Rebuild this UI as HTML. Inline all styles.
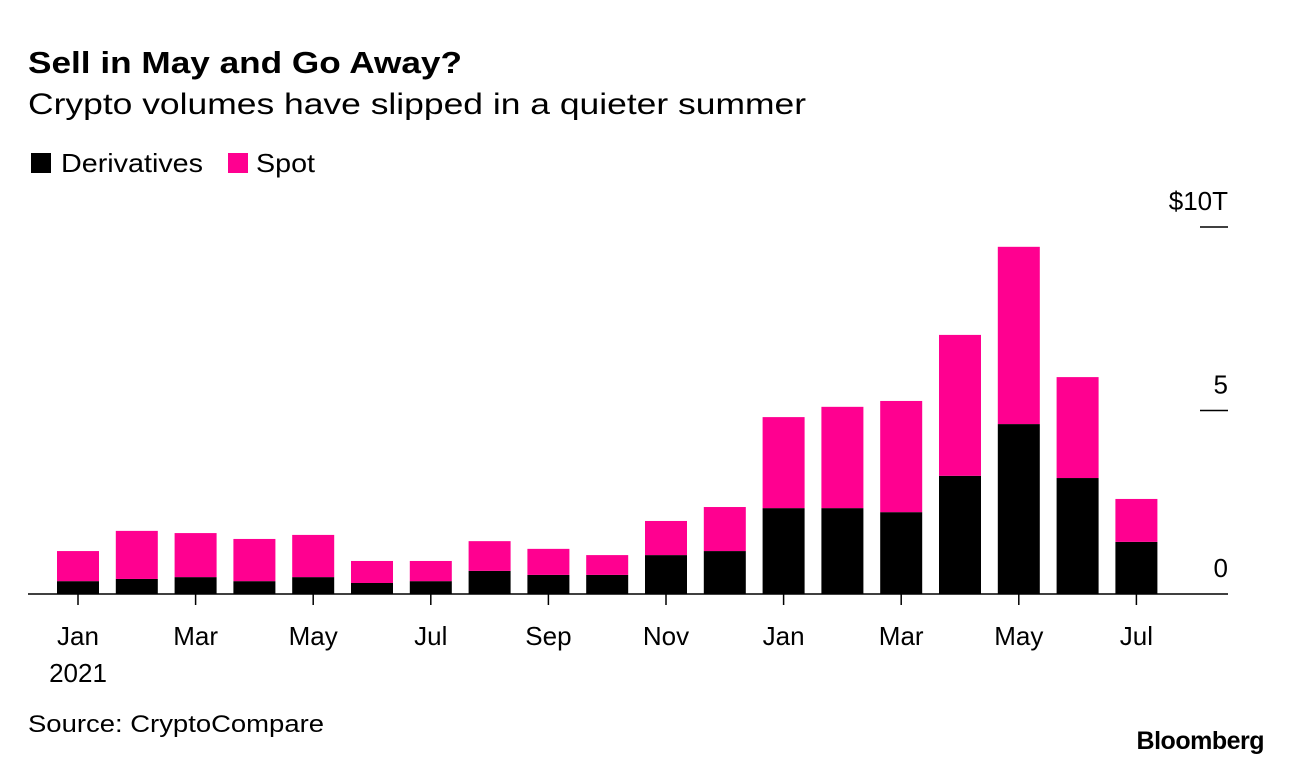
<!DOCTYPE html>
<html><head><meta charset="utf-8"><style>
body{margin:0;background:#fff;width:1292px;height:764px;overflow:hidden;font-family:"Liberation Sans",Arial,sans-serif}
</style></head><body>
<svg id="chart" width="1292" height="764" xmlns="http://www.w3.org/2000/svg" font-family="Liberation Sans, Arial, sans-serif">
<text x="28" y="73" font-size="31" font-weight="bold" fill="#000" textLength="434" lengthAdjust="spacingAndGlyphs">Sell in May and Go Away?</text>
<text x="28" y="114" font-size="30" fill="#000" textLength="778" lengthAdjust="spacingAndGlyphs">Crypto volumes have slipped in a quieter summer</text>
<g>
<rect x="31" y="153" width="20" height="20" fill="#000"/>
<text x="61" y="172" font-size="26" textLength="142" lengthAdjust="spacingAndGlyphs">Derivatives</text>
<rect x="228" y="153" width="20" height="20" fill="#ff0090"/>
<text x="256" y="172" font-size="26" textLength="59" lengthAdjust="spacingAndGlyphs">Spot</text>
</g>
<g id="bars"></g>
<g id="axes"></g>
<text x="28" y="732" font-size="24" textLength="296" lengthAdjust="spacingAndGlyphs">Source: CryptoCompare</text>
<text x="1264" y="749" font-size="25" font-weight="bold" text-anchor="end" letter-spacing="-0.5">Bloomberg</text>
</svg>
<script>
const months = ["Jan","Feb","Mar","Apr","May","Jun","Jul","Aug","Sep","Oct","Nov","Dec","Jan","Feb","Mar","Apr","May","Jun","Jul"];
const derivatives = [0.35,0.41,0.46,0.35,0.46,0.3,0.35,0.63,0.52,0.52,1.06,1.17,2.34,2.34,2.23,3.22,4.63,3.16,1.42];
const spot = [0.82,1.31,1.2,1.15,1.15,0.6,0.55,0.81,0.71,0.54,0.93,1.2,2.48,2.76,3.03,3.84,4.83,2.75,1.17];
const yTicks = [0,5,10];
const yTickLabels = ["0","5","$10T"];
const xLabelIdx = [0,2,4,6,8,10,12,14,16,18];

const NS="http://www.w3.org/2000/svg";
const y0=594, pxPerT=36.7;
function yScale(v){return y0-v*pxPerT;}
function xScale(i){return 78+i*58.8;}
const bw=42;
const bars=document.getElementById('bars');
const axes=document.getElementById('axes');
function mk(tag,attrs,parent){const e=document.createElementNS(NS,tag);for(const k in attrs)e.setAttribute(k,attrs[k]);parent.appendChild(e);return e;}
months.forEach((m,i)=>{
  const d=derivatives[i], s=spot[i];
  const r1=mk('rect',{x:xScale(i)-bw/2,y:yScale(d),width:bw,height:y0-yScale(d),fill:'#000'},bars);
  
  
  const r2=mk('rect',{x:xScale(i)-bw/2,y:yScale(d+s),width:bw,height:yScale(d)-yScale(d+s),fill:'#ff0090'},bars);
  
  
});
const base=mk('line',{x1:28,x2:1228,y1:y0,y2:y0,stroke:'#000','stroke-width':1.5},axes);


xLabelIdx.forEach(i=>{
  const tk=mk('line',{x1:xScale(i),x2:xScale(i),y1:y0,y2:y0+11,stroke:'#000','stroke-width':1.5},axes);
  
  
  const t=mk('text',{x:xScale(i),y:645,'font-size':26,'text-anchor':'middle'},axes);
  t.textContent=months[i];
  
  
});
const yr=mk('text',{x:xScale(0),y:682,'font-size':26,'text-anchor':'middle'},axes);
yr.textContent='2021';


yTicks.forEach((v,i)=>{
  if(v>0){
    const l=mk('line',{x1:1200,x2:1228,y1:yScale(v),y2:yScale(v),stroke:'#000','stroke-width':1.5},axes);
    
    
  }
  const t=mk('text',{x:1228,y:yScale(v)-17,'font-size':26,'text-anchor':'end'},axes);
  t.textContent=yTickLabels[i];
  
  
});
</script>
</body></html>
